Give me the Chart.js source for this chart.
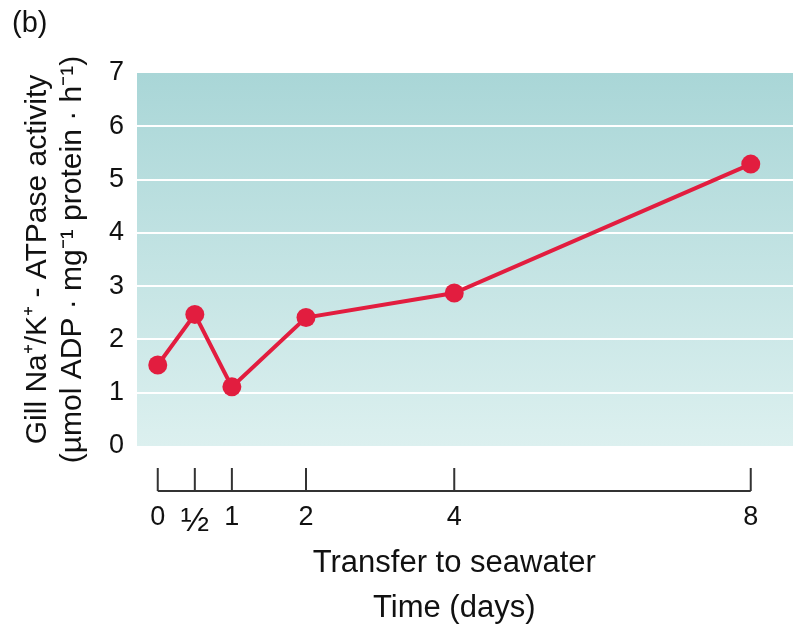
<!DOCTYPE html>
<html>
<head>
<meta charset="utf-8">
<script src="https://cdn.jsdelivr.net/npm/chart.js@4.4.0/dist/chart.umd.min.js"></script>
<style>
  html, body { margin: 0; padding: 0; background: #fff; overflow: hidden; }
  #wrap { width: 793px; height: 631px; position: relative; }
</style>
</head>
<body>
<div id="wrap"><canvas id="grafica"></canvas></div>
<script>
// datos
const dias = [0, 0.5, 1, 2, 4, 8];
const actividad = [1.52, 2.47, 1.11, 2.41, 2.87, 5.29];
const ticksX = [0, 0.5, 1, 2, 4, 8];
const etiquetasX = ['0', '\u00BD', '1', '2', '4', '8'];
const tituloY = ['Gill Na\u207A/K\u207A - ATPase activity', '(\u00B5mol ADP \u00B7 mg\u207B\u00B9 protein \u00B7 h\u207B\u00B9)'];
const tituloX = ['Transfer to seawater', 'Time (days)'];

const fuente = "'Liberation Sans', Arial, sans-serif";
const rojo = '#e21d3f';

// fondo degradado, eje x separado y textos extra
const extras = {
    id: 'extras',
    beforeDraw(chart) {
        const { ctx, chartArea, scales } = chart;
        const top = scales.y.getPixelForValue(7);
        const bottom = scales.y.getPixelForValue(0);
        const grad = ctx.createLinearGradient(0, top, 0, bottom);
        grad.addColorStop(0, '#a9d6d7');
        grad.addColorStop(1, '#dcf0ef');
        ctx.save();
        ctx.fillStyle = grad;
        ctx.fillRect(chartArea.left, top, chartArea.right - chartArea.left, bottom - top);
        ctx.restore();
    },
    afterDraw(chart) {
        const { ctx, scales } = chart;
        const x0 = scales.x.getPixelForValue(0);
        const x8 = scales.x.getPixelForValue(8);
        const yLinea = scales.y.getPixelForValue(0) + 45;
        ctx.save();
        ctx.strokeStyle = '#333';
        ctx.lineWidth = 2;
        ctx.beginPath();
        ctx.moveTo(x0, yLinea);
        ctx.lineTo(x8, yLinea);
        ticksX.forEach(v => {
            const px = scales.x.getPixelForValue(v);
            ctx.moveTo(px, yLinea);
            ctx.lineTo(px, yLinea - 23);
        });
        ctx.stroke();

        ctx.fillStyle = '#111';
        ctx.font = '31px ' + fuente;
        ctx.textAlign = 'center';
        ctx.textBaseline = 'middle';
        const cx = (x0 + x8) / 2;
        ctx.fillText(tituloX[0], cx, 563);
        ctx.fillText(tituloX[1], cx, 608);

        ctx.font = '29px ' + fuente;
        ctx.textAlign = 'left';
        ctx.fillText('(b)', 12, 24);
        ctx.restore();
    }
};

const ctx = document.getElementById('grafica').getContext('2d');
new Chart(ctx, {
    type: 'line',
    data: {
        datasets: [{
            data: dias.map((d, i) => ({ x: d, y: actividad[i] })),
            borderColor: rojo,
            backgroundColor: rojo,
            borderWidth: 4,
            pointRadius: 9.5,
            pointBorderWidth: 0,
            fill: false,
            tension: 0
        }]
    },
    options: {
        responsive: true,
        maintainAspectRatio: false,
        animation: false,
        layout: { autoPadding: false, padding: { top: 73, right: 0, left: 0, bottom: 0 } },
        plugins: {
            legend: { display: false },
            tooltip: { enabled: false }
        },
        scales: {
            x: {
                type: 'linear',
                min: -0.28,
                max: 8.57,
                grid: { display: false, drawTicks: false },
                border: { display: false },
                afterBuildTicks: scale => { scale.ticks = ticksX.map(v => ({ value: v })); },
                afterFit: scale => {
                    scale.height = 185;
                    scale.paddingLeft = 0;
                    scale.paddingRight = 0;
                },
                ticks: {
                    padding: 55,
                    color: '#111',
                    maxRotation: 0,
                    autoSkip: false,
                    font: c => ({ family: fuente, size: c.tick && c.tick.value === 0.5 ? 34 : 27 }),
                    callback: function(value) {
                        const i = ticksX.indexOf(value);
                        return i >= 0 ? etiquetasX[i] : '';
                    }
                }
            },
            y: {
                min: 0,
                max: 7,
                afterFit: scale => {
                    scale.width = 137;
                    scale.paddingTop = 0;
                    scale.paddingBottom = 0;
                },
                grid: {
                    drawTicks: false,
                    lineWidth: 2,
                    color: c => (c.tick && (c.tick.value === 0 || c.tick.value === 7)) ? 'rgba(0,0,0,0)' : '#ffffff'
                },
                border: { display: false },
                ticks: {
                    stepSize: 1,
                    padding: 13,
                    color: '#111',
                    font: { family: fuente, size: 27 }
                },
                title: {
                    display: true,
                    text: tituloY,
                    color: '#111',
                    font: { family: fuente, size: 30, lineHeight: 1.17 },
                    padding: { top: 20, bottom: 0 }
                }
            }
        }
    },
    plugins: [extras]
});
</script>
</body>
</html>
